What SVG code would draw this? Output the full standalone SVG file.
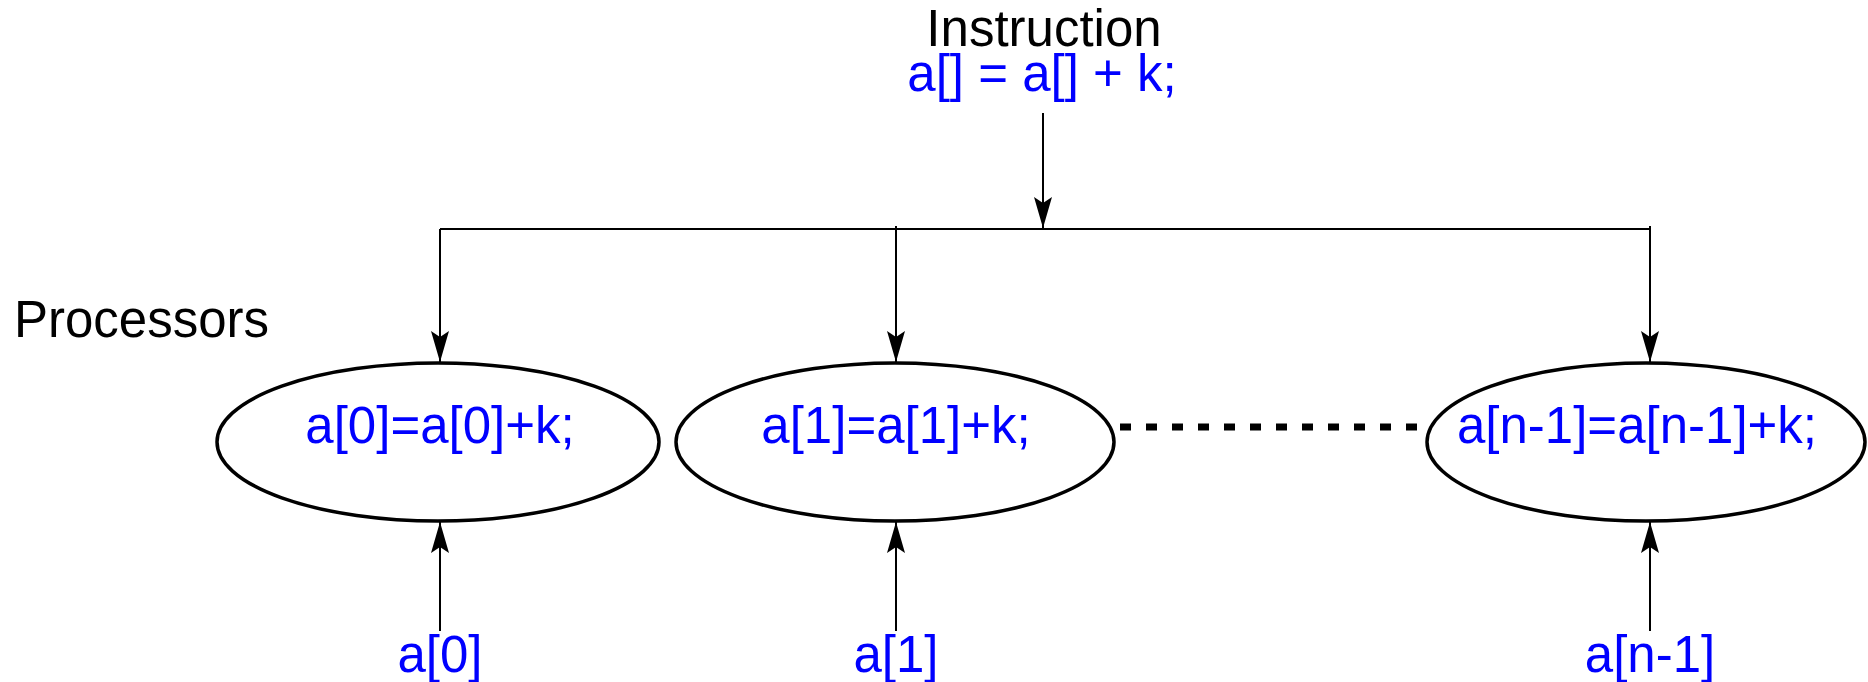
<svg xmlns="http://www.w3.org/2000/svg" width="1868" height="682" viewBox="0 0 1868 682">
<style>
.lbl{font-family:"Liberation Sans",Arial,sans-serif;font-size:51px;}
.blk{fill:#000;}
.blu{fill:#0000ff;}
.ln{stroke:#000;stroke-width:2;fill:none;}
.el{stroke:#000;stroke-width:3.5;fill:#fff;}
</style>
<defs>
<marker id="ah" markerUnits="userSpaceOnUse" markerWidth="34" markerHeight="22" viewBox="-32 -11 34 22" refX="0" refY="0" orient="auto">
<path d="M0,0 L-31,-9 L-25,0 L-31,9 Z" fill="#000"/>
</marker>
</defs>
<g id="instruction">
<text class="lbl blk" x="1044" y="46" text-anchor="middle">Instruction</text>
<text class="lbl blu" x="1042" y="91" text-anchor="middle">a[] = a[] + k;</text>
</g>
<g id="processors-label">
<text class="lbl blk" x="14" y="337">Processors</text>
</g>
<g id="connectors">
<line class="ln" x1="1043" y1="113" x2="1043" y2="228" marker-end="url(#ah)"/>
<line class="ln" x1="440" y1="229" x2="1651" y2="229"/>
<line class="ln" x1="440" y1="229" x2="440" y2="362" marker-end="url(#ah)"/>
<line class="ln" x1="896" y1="226" x2="896" y2="362" marker-end="url(#ah)"/>
<line class="ln" x1="1650" y1="226" x2="1650" y2="362" marker-end="url(#ah)"/>
<line class="ln" x1="440" y1="631" x2="440" y2="522" marker-end="url(#ah)"/>
<line class="ln" x1="896" y1="631" x2="896" y2="522" marker-end="url(#ah)"/>
<line class="ln" x1="1650" y1="631" x2="1650" y2="522" marker-end="url(#ah)"/>
<line x1="1120" y1="427" x2="1427" y2="427" stroke="#000" stroke-width="7" stroke-dasharray="11 15"/>
</g>
<g id="p0">
<ellipse class="el" cx="438" cy="442" rx="221" ry="79"/>
<text class="lbl blu" x="440" y="443" text-anchor="middle">a[0]=a[0]+k;</text>
</g>
<g id="p1">
<ellipse class="el" cx="895" cy="442" rx="219" ry="79"/>
<text class="lbl blu" x="896" y="443" text-anchor="middle">a[1]=a[1]+k;</text>
</g>
<g id="pn">
<ellipse class="el" cx="1646" cy="442" rx="219" ry="79"/>
<text class="lbl blu" x="1637" y="443" text-anchor="middle">a[n-1]=a[n-1]+k;</text>
</g>
<g id="in0"><text class="lbl blu" x="440" y="672" text-anchor="middle">a[0]</text></g>
<g id="in1"><text class="lbl blu" x="896" y="672" text-anchor="middle">a[1]</text></g>
<g id="inn"><text class="lbl blu" x="1650" y="672" text-anchor="middle">a[n-1]</text></g>
</svg>
